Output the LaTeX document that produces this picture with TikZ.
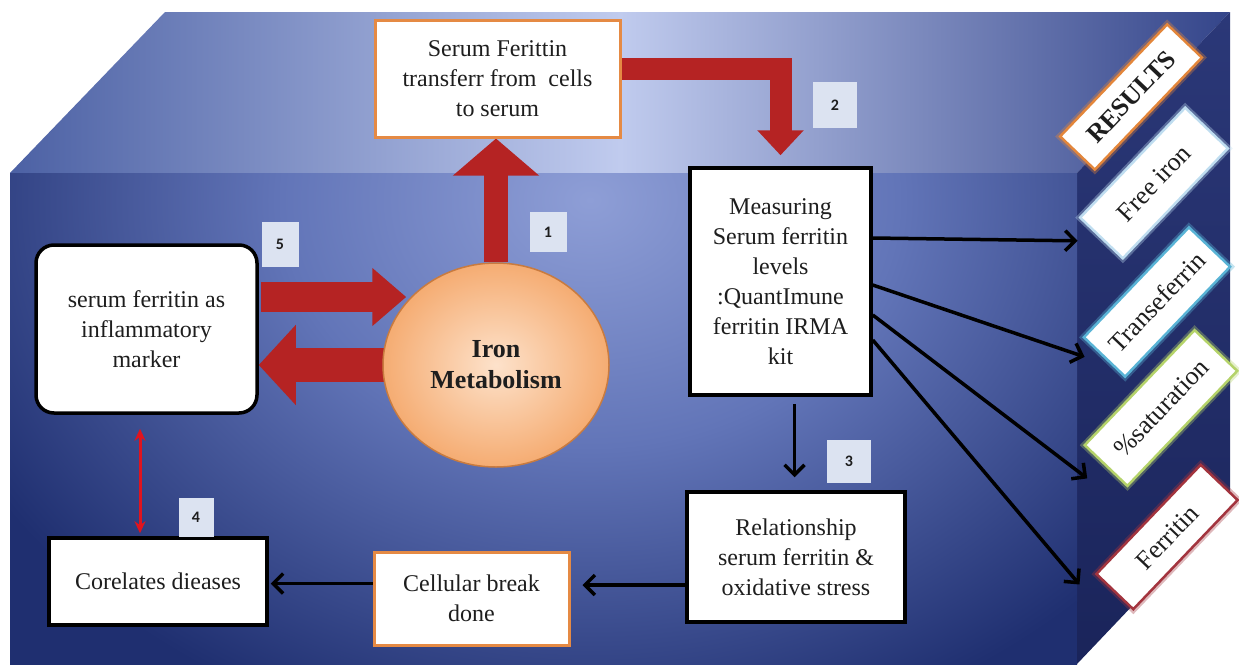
\documentclass[tikz,border=0pt]{standalone}
\usepackage{fontspec}
\setmainfont{Liberation Serif}
\newfontfamily\numfont{Carlito}
\usetikzlibrary{shapes.geometric,arrows.meta,calc}
\pgfdeclarelayer{cube}
\pgfdeclarelayer{links}
\pgfsetlayers{cube,links,main}

\definecolor{frontlight}{HTML}{8E9ED6}
\definecolor{frontmid}{HTML}{6275B8}
\definecolor{frontdark}{HTML}{1F2F70}
\definecolor{topleft}{HTML}{4C61A4}
\definecolor{topmid}{HTML}{C0CBEE}
\definecolor{topright}{HTML}{34458A}
\definecolor{sidetop}{HTML}{2B3878}
\definecolor{sidebot}{HTML}{1A245A}
\definecolor{flowred}{HTML}{B52323}
\definecolor{linkred}{HTML}{E0141E}
\definecolor{boxorange}{HTML}{E58A44}
\definecolor{tagfill}{HTML}{DCE3F1}
\definecolor{inktext}{HTML}{1E1E1E}
\definecolor{ironin}{HTML}{FDE2CB}
\definecolor{ironout}{HTML}{F5AC72}
\definecolor{ironline}{HTML}{C97B3F}
\definecolor{rescol}{HTML}{E3863B}
\definecolor{freecol}{HTML}{BFDDF0}
\definecolor{transcol}{HTML}{5AB4D6}
\definecolor{satcol}{HTML}{B5D36A}
\definecolor{ferrcol}{HTML}{A3343E}

% bright centre fading to deep navy at the rim of the shaded path
\pgfdeclareradialshading{frontglow}{\pgfpointorigin}{%
  color(0bp)=(frontlight); color(11bp)=(frontmid); color(25bp)=(frontdark);
  color(50bp)=(frontdark)}

\tikzset{
  body/.style={font=\fontsize{24}{30}\selectfont, text=inktext, align=center},
  plainbox/.style={body, draw=black, line width=3.5pt, fill=white, inner sep=0pt},
  orangebox/.style={body, draw=boxorange, line width=3pt, fill=white, inner sep=0pt},
  tag/.style={fill=tagfill, font=\numfont\bfseries\fontsize{16}{16}\selectfont,
    text=inktext, minimum width=40pt, minimum height=42pt, inner sep=0pt},
  resultbox/.style={fill=white, line width=2.5pt, rotate=46.3, inner sep=0pt,
    text=inktext, font=\fontsize{26}{30}\selectfont,
    preaction={draw=#1, line width=7pt, opacity=0.35}, draw=#1},
  blackarrow/.style={draw=black, line width=3.5pt,
    -{Straight Barb[length=10pt,width=20pt]}},
  redlink/.style={draw=linkred, line width=3pt,
    {Stealth[length=12pt,width=11pt]}-{Stealth[length=12pt,width=11pt]}},
  flowup/.style={draw=flowred, line width=24pt, -{Triangle[length=37pt,width=84pt]}},
  flowturn/.style={draw=flowred, line width=22pt, line join=miter,
    -{Triangle[length=25pt,width=45pt]}},
  flowin/.style={draw=flowred, line width=30pt, -{Triangle[length=34pt,width=56pt]}},
  flowout/.style={draw=flowred, line width=34pt, -{Triangle[length=37pt,width=78pt]}},
}

\begin{document}
\begin{tikzpicture}[x=1pt,y=-1pt]
\useasboundingbox (0,0) rectangle (1239,664);

% the box: top face, side face and shaded front face
\begin{pgfonlayer}{cube}
  \fill[white] (0,0) rectangle (1239,664);
  \shade[left color=topleft, right color=topright, middle color=topmid]
    (10,173) -- (165,12) -- (1230,12) -- (1077,173) -- cycle;
  \shade[top color=sidetop, bottom color=sidebot]
    (1077,173) -- (1230,12) -- (1230,503) -- (1077,664) -- (1077,670) -- cycle;
  \begin{scope}
    \clip (10,173) rectangle (1077,670);
    \fill[frontdark] (10,173) rectangle (1077,670);
    \shade[shading=frontglow]
      (590,200) ellipse [x radius=700pt, y radius=560pt];
  \end{scope}
\end{pgfonlayer}

% process boxes
\node[orangebox, minimum width=245pt, minimum height=117pt] (fer) at (497.5,78.5)
  {Serum Ferittin\\transferr from~ cells\\to serum};
\node[plainbox, minimum width=181pt, minimum height=227pt] (meas) at (780.5,281.5)
  {Measuring\\Serum ferritin\\levels\\:QuantImune\\ferritin IRMA\\kit};
\node[plainbox, minimum width=218pt, minimum height=130pt] (rel) at (796,557)
  {Relationship\\serum ferritin \&\\oxidative stress};
\node[orangebox, minimum width=195pt, minimum height=93pt] (cell) at (471.5,598.5)
  {Cellular break\\done};
\node[plainbox, minimum width=218pt, minimum height=87pt] (corr) at (158,581.5)
  {Corelates dieases};
\node[plainbox, rounded corners=18pt, minimum width=221pt, minimum height=168pt]
  (serum) at (146.5,329) {serum ferritin as\\inflammatory\\marker};
\node[ellipse, draw=ironline, line width=1.5pt, inner color=ironin, outer color=ironout,
  minimum width=226pt, minimum height=204pt, align=center, text=inktext,
  font=\bfseries\fontsize{26}{31}\selectfont] (iron) at (496,365) {Iron\\Metabolism};

% step numbers
\node[tag, minimum width=37pt, minimum height=40pt] (t1) at (548,232) {1};
\node[tag, minimum width=44pt, minimum height=46pt] (t2) at (835,105) {2};
\node[tag, minimum width=44pt, minimum height=43pt] (t3) at (849,461) {3};
\node[tag, minimum width=35pt, minimum height=39pt] (t4) at (196,517) {4};
\node[tag, minimum width=37pt, minimum height=45pt] (t5) at (280,244) {5};

% results on the side face
\node[resultbox=rescol, minimum width=155pt, minimum height=48pt,
  font=\bfseries\fontsize{26}{30}\selectfont] (res) at (1131,97) {RESULTS};
\node[resultbox=freecol, minimum width=152pt, minimum height=59pt]
  (free) at (1154,183) {Free iron};
\node[resultbox=transcol, minimum width=152pt, minimum height=57pt]
  (trans) at (1157,302) {Transeferrin};
\node[resultbox=satcol, minimum width=159pt, minimum height=59pt]
  (sat) at (1161,408) {\%saturation};
\node[resultbox=ferrcol, minimum width=151pt, minimum height=51pt]
  (ferr) at (1167,537) {Ferritin};

% connectors
\begin{pgfonlayer}{links}
  \draw[flowup] (iron.north) -- (iron.north |- fer.south);
  \draw[flowturn] ([shift={(0,-9.5)}]fer.east) -| ([shift={(0,-11)}]meas.north);
  \draw[flowin] ($(serum.east)+(2,-32)$) -- ($(serum.east -| iron.west)+(24,-32)$);
  \draw[flowout] ($(serum.east -| iron.west)+(4,36)$) -- ($(serum.east)+(0,36)$);

  \draw[blackarrow] ([shift={(0,-43.5)}]meas.east) -- ([shift={(-23,2)}]free.west);
  \draw[blackarrow] ([shift={(0,3.5)}]meas.east) -- ([shift={(-19,-1)}]trans.west);
  \draw[blackarrow] ([shift={(0,33.5)}]meas.east) -- ([shift={(-18,12)}]sat.west);
  \draw[blackarrow] ([shift={(0,58.5)}]meas.east) -- ([shift={(-34.5,-8)}]ferr.west);

  \draw[blackarrow] ($(meas.south)+(14,7)$) -- ($(meas.south |- rel.north)+(14,-13)$);
  \draw[blackarrow] ($(rel.west)+(0,28)$) -- ($(rel.west -| cell.east)+(12,28)$);
  \draw[blackarrow] ($(cell.west)+(0,-15)$) -- ($(cell.west -| corr.east)+(2,-15)$);

  \draw[redlink] ($(serum.south)+(-6.5,14)$) -- ($(serum.south |- corr.north)+(-6.5,-3)$);
\end{pgfonlayer}
\end{tikzpicture}
\end{document}
